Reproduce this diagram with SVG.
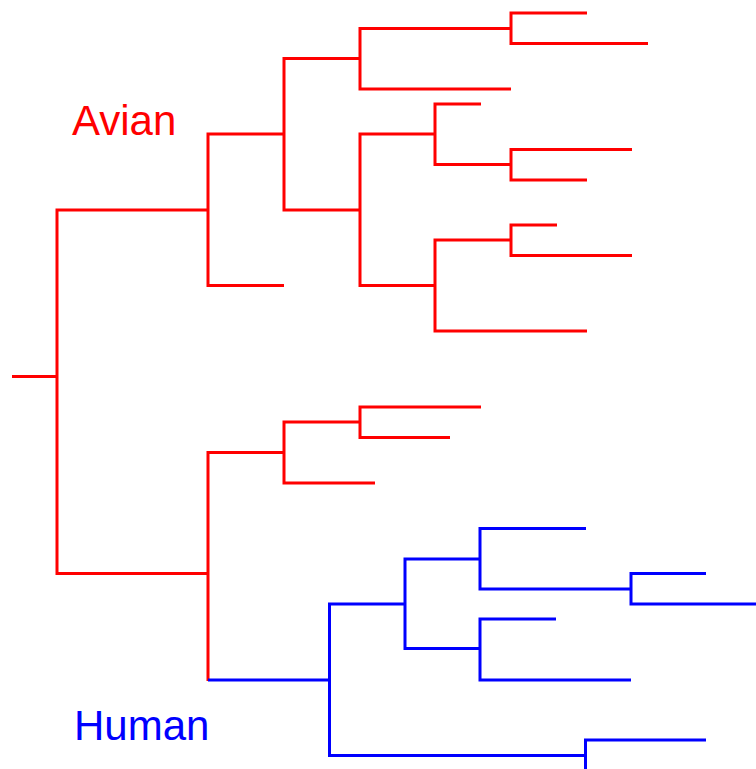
<svg xmlns="http://www.w3.org/2000/svg" width="756" height="769" viewBox="0 0 756 769">
<style>
.r{fill:none;stroke:#ff0000;stroke-width:3;stroke-linejoin:miter;stroke-linecap:butt}
.b{fill:none;stroke:#0000ff;stroke-width:3;stroke-linejoin:miter;stroke-linecap:butt}
.lbl{font-family:"Liberation Sans",Arial,sans-serif;font-size:42px}
</style>
<rect width="756" height="769" fill="#ffffff"/>
<g id="connectors">
<path class="r" d="M12,376.5 H57"/>
<path class="r" d="M208,210 H57 V573.5 H208"/>
<path class="r" d="M284,134 H208 V285.5 H284"/>
<path class="r" d="M360,58.5 H284 V210 H360"/>
<path class="r" d="M511,28.5 H360 V89 H511"/>
<path class="r" d="M587,13 H511 V43.5 H648"/>
<path class="r" d="M435,134 H360 V285.5 H435"/>
<path class="r" d="M481,104 H435 V164.5 H511"/>
<path class="r" d="M632,149.5 H511 V180 H587"/>
<path class="r" d="M511,240 H435 V331 H587"/>
<path class="r" d="M557,225 H511 V255.5 H632"/>
<path class="r" d="M284,452.5 H208 V681"/>
<path class="r" d="M360,422 H284 V483 H375"/>
<path class="r" d="M481,407 H360 V437.5 H450"/>
<path class="b" d="M208,680 H329.5"/>
<path class="b" d="M405,604 H329.5 V755.5 H585.5"/>
<path class="b" d="M480,559 H405 V648.5 H480"/>
<path class="b" d="M586,528.5 H480 V589 H631"/>
<path class="b" d="M706,573.5 H631 V604 H756"/>
<path class="b" d="M556,619 H480 V680 H631"/>
<path class="b" d="M706,740 H585.5 V771.5 H756"/>
</g>
<g id="label-avian"><text class="lbl" x="72" y="135" fill="#ff0000">Avian</text></g>
<g id="label-human"><text class="lbl" x="74" y="740" fill="#0000ff">Human</text></g>
</svg>
